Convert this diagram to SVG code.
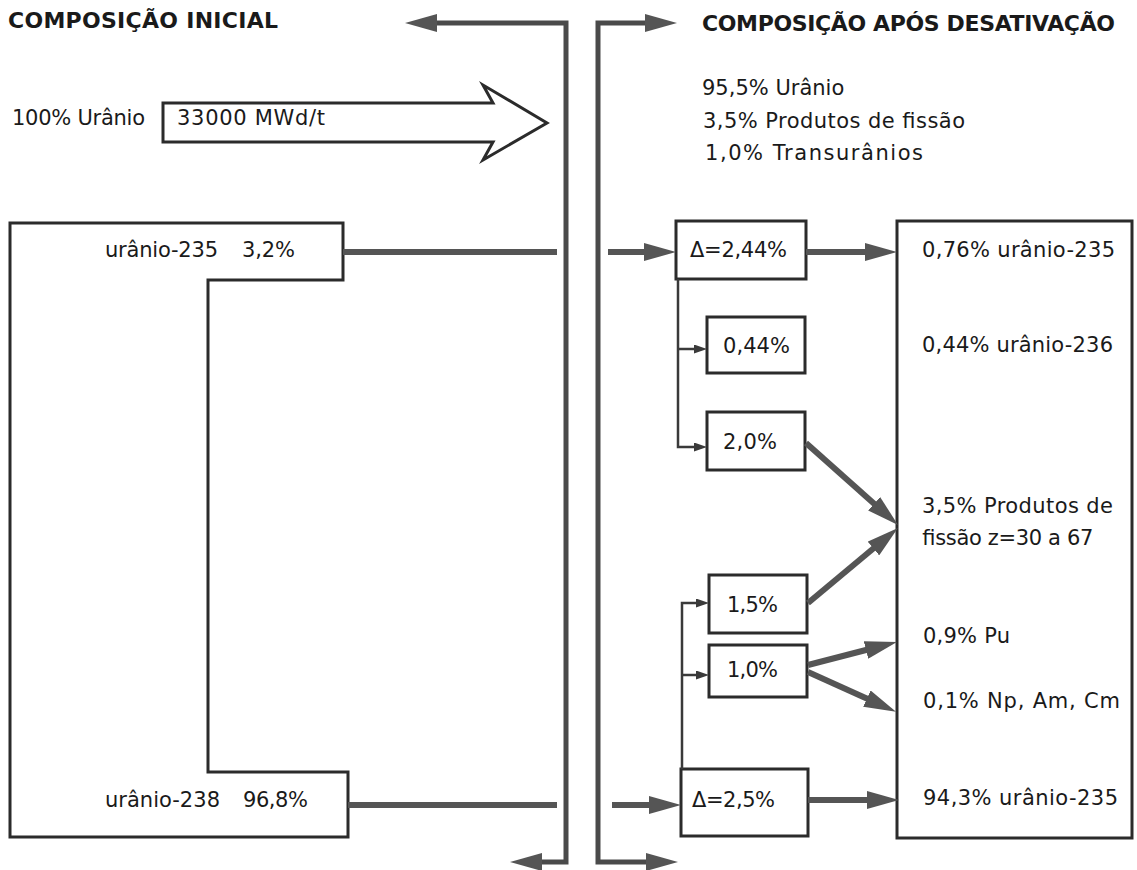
<svg xmlns="http://www.w3.org/2000/svg" width="1137" height="870" viewBox="0 0 1137 870">
<style>
  .t { font-family: "DejaVu Sans", "Liberation Sans", Arial, sans-serif; font-size: 21px; fill: #1a1a1a; }
  .h { font-family: "DejaVu Sans", "Liberation Sans", Arial, sans-serif; font-size: 22px; font-weight: bold; fill: #1a1a1a; }
  .box { fill: none; stroke: #2b2b2b; stroke-width: 3; stroke-linejoin: miter; }
  .bar { fill: none; stroke: #4a4a4a; stroke-width: 5; stroke-linejoin: miter; }
  .thick { fill: none; stroke: #555555; stroke-width: 6; }
  .thin { fill: none; stroke: #3a3a3a; stroke-width: 2.5; }
</style>
<defs>
  <marker id="big" markerUnits="userSpaceOnUse" markerWidth="32" markerHeight="18" refX="12" refY="9" orient="auto-start-reverse">
    <path d="M0,0 L32,9 L0,18 Z" fill="#555555"/>
  </marker>
  <marker id="small" markerUnits="userSpaceOnUse" markerWidth="13" markerHeight="9" refX="5" refY="4.5" orient="auto">
    <path d="M0,0 L13,4.5 L0,9 Z" fill="#3a3a3a"/>
  </marker>
</defs>
<rect width="1137" height="870" fill="#ffffff"/>

<g id="headers">
  <text class="h" x="8" y="28" textLength="270">COMPOSIÇÃO INICIAL</text>
  <text class="h" x="702" y="31" textLength="413">COMPOSIÇÃO APÓS DESATIVAÇÃO</text>
</g>

<g id="initial-uranium">
  <text class="t" x="12" y="125" textLength="133">100% Urânio</text>
</g>

<g id="burnup-arrow">
  <polygon class="box" points="163,103 493,103 483,85 547,123 483,160 493,142 163,142"/>
  <text class="t" x="177" y="125" textLength="148">33000 MWd/t</text>
</g>

<g id="final-summary">
  <text class="t" x="702" y="95">95,5% Urânio</text>
  <text class="t" x="703" y="128" textLength="262">3,5% Produtos de fissão</text>
  <text class="t" x="705" y="160" textLength="218">1,0% Transurânios</text>
</g>

<g id="initial-box">
  <polygon class="box" points="10,223 343,223 343,280 208,280 208,772 348,772 348,837 10,837"/>
  <text class="t" x="105" y="257" textLength="113">urânio-235</text>
  <text class="t" x="242" y="257" textLength="53">3,2%</text>
  <text class="t" x="105" y="807" textLength="115">urânio-238</text>
  <text class="t" x="243" y="807" textLength="65">96,8%</text>
</g>

<g id="delta-244">
  <rect class="box" x="676" y="221" width="130" height="58"/>
  <text class="t" x="690" y="257" textLength="97">Δ=2,44%</text>
</g>
<g id="box-044">
  <rect class="box" x="707" y="317" width="98" height="56"/>
  <text class="t" x="723" y="353" textLength="67">0,44%</text>
</g>
<g id="box-20">
  <rect class="box" x="707" y="412" width="98" height="58"/>
  <text class="t" x="723" y="449" textLength="54">2,0%</text>
</g>
<g id="box-15">
  <rect class="box" x="709" y="575" width="98" height="58"/>
  <text class="t" x="727" y="612" textLength="51">1,5%</text>
</g>
<g id="box-10">
  <rect class="box" x="709" y="645" width="98" height="52"/>
  <text class="t" x="727" y="677" textLength="51">1,0%</text>
</g>
<g id="delta-25">
  <rect class="box" x="681" y="769" width="127" height="67"/>
  <text class="t" x="692" y="807" textLength="83">Δ=2,5%</text>
</g>

<g id="final-box">
  <rect class="box" x="897" y="221" width="235" height="617"/>
  <text class="t" x="922" y="257" textLength="193">0,76% urânio-235</text>
  <text class="t" x="922" y="352" textLength="191">0,44% urânio-236</text>
  <text class="t" x="922" y="513" textLength="191">3,5% Produtos de</text>
  <text class="t" x="922" y="545" textLength="171">fissão z=30 a 67</text>
  <text class="t" x="923" y="643" textLength="87">0,9% Pu</text>
  <text class="t" x="923" y="708" textLength="197">0,1% Np, Am, Cm</text>
  <text class="t" x="923" y="805" textLength="195">94,3% urânio-235</text>
</g>

<g id="connectors">
  <path class="bar" d="M425,23 H566 V862 H530" marker-start="url(#big)" marker-end="url(#big)"/>
  <path class="bar" d="M657,23 H598 V862 H658" marker-start="url(#big)" marker-end="url(#big)"/>
  <path class="thick" d="M343,252 H557"/>
  <path class="thick" d="M608,252 H656" marker-end="url(#big)"/>
  <path class="thick" d="M806,252 H877" marker-end="url(#big)"/>
  <path class="thin" d="M678,279 V447 H699" marker-end="url(#small)"/>
  <path class="thin" d="M678,349 H699" marker-end="url(#small)"/>
  <path class="thick" d="M806,443 L883.1,511.7" marker-end="url(#big)"/>
  <path class="thick" d="M808,603 L882.6,540.8" marker-end="url(#big)"/>
  <path class="thick" d="M808,665 L877.6,647" marker-end="url(#big)"/>
  <path class="thick" d="M808,672 L877.8,703.6" marker-end="url(#big)"/>
  <path class="thin" d="M682,769 V603 H701" marker-end="url(#small)"/>
  <path class="thin" d="M682,675 H701" marker-end="url(#small)"/>
  <path class="thick" d="M348,805 H557"/>
  <path class="thick" d="M612,805 H661" marker-end="url(#big)"/>
  <path class="thick" d="M808,800 H879" marker-end="url(#big)"/>
</g>
</svg>
